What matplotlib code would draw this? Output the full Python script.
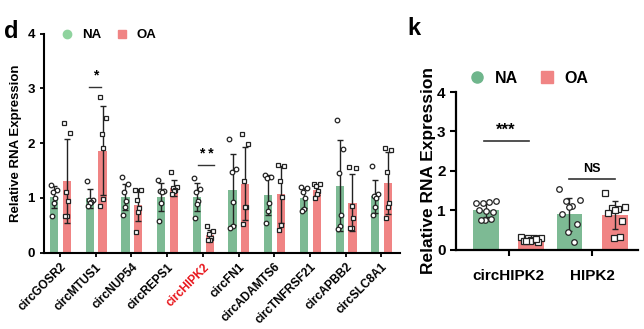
import numpy as np
import matplotlib
matplotlib.use("Agg")
import matplotlib.pyplot as plt
from matplotlib.lines import Line2D

plt.rcParams['font.family'] = ['Liberation Sans', 'DejaVu Sans']
plt.rcParams['font.weight'] = 'bold'
plt.rcParams['axes.labelweight'] = 'bold'

GREEN = '#7dba94'
RED = '#f08484'

# ---- panel d data ----
genes_d = ['circGOSR2', 'circMTUS1', 'circNUP54', 'circREPS1', 'circHIPK2',
           'circFN1', 'circADAMTS6', 'circTNFRSF21', 'circAPBB2', 'circSLC8A1']
na_mean_d = [1.01, 0.99, 1.02, 1.02, 1.02, 1.15, 1.05, 1.00, 1.22, 1.03]
oa_mean_d = [1.31, 1.86, 0.87, 1.18, 0.32, 1.26, 1.07, 1.15, 0.91, 1.27]
na_sd_d = [0.20, 0.17, 0.24, 0.25, 0.25, 0.65, 0.37, 0.18, 0.83, 0.30]
oa_sd_d = [0.76, 0.81, 0.29, 0.15, 0.09, 0.67, 0.52, 0.09, 0.52, 0.57]
na_pts_d = [
    [1.24, 1.14, 1.10, 1.00, 0.90, 0.67],
    [1.31, 0.97, 0.96, 0.93, 0.90, 0.85],
    [1.38, 1.25, 1.11, 0.95, 0.84, 0.68],
    [1.32, 1.13, 1.12, 1.10, 0.90, 0.57],
    [1.37, 1.17, 1.10, 0.95, 0.88, 0.64],
    [2.08, 1.53, 1.47, 0.93, 0.48, 0.45],
    [1.42, 1.39, 1.36, 0.91, 0.77, 0.55],
    [1.20, 1.18, 1.10, 1.00, 0.80, 0.77],
    [2.42, 1.89, 1.45, 0.68, 0.49, 0.43],
    [1.58, 1.08, 1.04, 1.00, 0.84, 0.69],
]
oa_pts_d = [
    [2.36, 2.18, 1.10, 0.95, 0.67, 0.67],
    [2.85, 2.46, 2.16, 1.92, 0.98, 0.85],
    [1.14, 1.14, 0.97, 0.81, 0.75, 0.37],
    [1.48, 1.20, 1.18, 1.15, 1.12, 1.08],
    [0.49, 0.40, 0.35, 0.27, 0.24, 0.24],
    [2.17, 1.98, 1.31, 0.84, 0.84, 0.52],
    [1.60, 1.58, 1.30, 1.02, 0.50, 0.41],
    [1.26, 1.25, 1.22, 1.13, 1.08, 1.00],
    [1.57, 1.55, 0.85, 0.63, 0.45, 0.45],
    [1.92, 1.88, 1.48, 0.91, 0.84, 0.63],
]

# ---- panel k data ----
genes_k = ['circHIPK2', 'HIPK2']
na_mean_k = [1.00, 0.90]
oa_mean_k = [0.25, 0.87]
na_sd_k = [0.18, 0.42]
oa_sd_k = [0.05, 0.35]
na_pts_k = [
    [1.19, 1.22, 1.17, 1.21, 0.98, 1.00, 0.96, 0.75, 0.77, 0.74],
    [1.53, 1.25, 1.22, 1.10, 1.08, 0.90, 0.66, 0.44, 0.20],
]
oa_pts_k = [
    [0.32, 0.30, 0.28, 0.30, 0.25, 0.22, 0.20, 0.22, 0.26, 0.21],
    [1.44, 1.08, 1.06, 1.02, 1.00, 0.92, 0.72, 0.30, 0.33],
]


def spread(n, width):
    # simple symmetric horizontal offsets for the dots
    pattern = np.array([-0.5, 0.5, -0.15, 0.15, 0.0, -0.35, 0.35, -0.05, 0.25, -0.25])
    return pattern[:n] * width


def draw_group(ax, xc, mean, sd, pts, color, marker, bw, ms, jw):
    ax.bar(xc, mean, width=bw, color=color, zorder=1)
    ax.errorbar(xc, mean, yerr=sd, fmt='none', ecolor='#222222',
                elinewidth=1.0, capsize=2.2, capthick=1.0, zorder=2)
    ax.plot(xc + spread(len(pts), jw), pts, linestyle='none', marker=marker,
            ms=ms, mfc='white', mec='#222222', mew=0.9, zorder=3, clip_on=False)


fig = plt.figure(figsize=(6.44, 3.29), dpi=100)

# ------------- panel d -------------
ax = fig.add_axes([0.0683, 0.2319, 0.5528, 0.666])
x = np.arange(len(genes_d))
for i in range(len(genes_d)):
    draw_group(ax, x[i] - 0.17, na_mean_d[i], na_sd_d[i], na_pts_d[i], GREEN, 'o', 0.23, 3.3, 0.17)
    draw_group(ax, x[i] + 0.19, oa_mean_d[i], oa_sd_d[i], oa_pts_d[i], RED, 's', 0.23, 3.3, 0.17)

ax.set_xlim(-0.45, 9.52)
ax.set_ylim(0, 4)
ax.set_yticks([0, 1, 2, 3, 4])
ax.set_xticks(x)
ax.set_xticklabels(genes_d, rotation=45, ha='right', rotation_mode='anchor', fontsize=8.5)
ax.get_xticklabels()[4].set_color('#e8141a')
ax.tick_params(axis='both', width=1.3, length=3, labelsize=9.5)
ax.tick_params(axis='x', labelsize=8.5, pad=3)
for s in ['top', 'right']:
    ax.spines[s].set_visible(False)
for s in ['left', 'bottom']:
    ax.spines[s].set_linewidth(1.5)
ax.set_ylabel('Relative RNA Expression', fontsize=9.5, labelpad=4)

# significance
ax.plot([0.82, 1.15], [3.02, 3.02], color='#333333', lw=1)
ax.text(1.0, 3.1, '*', ha='center', va='bottom', fontsize=10)
ax.plot([3.86, 4.32], [1.61, 1.61], color='#333333', lw=1)
ax.text(4.09, 1.67, '* *', ha='center', va='bottom', fontsize=10)

# legend d
ax.legend(handles=[Line2D([], [], marker='o', ls='none', color='#8fd39e', ms=6),
                   Line2D([], [], marker='s', ls='none', color=RED, ms=6)],
          labels=['NA', 'OA'], ncol=2, frameon=False, fontsize=9.5,
          loc='upper left', bbox_to_anchor=(-0.005, 1.075), handletextpad=0.1,
          columnspacing=0.6)

fig.text(0.006, 0.886, 'd', fontsize=17, fontweight='bold')

# ------------- panel k -------------
ak = fig.add_axes([0.708, 0.2416, 0.2826, 0.4787])
xk = np.arange(len(genes_k))
for i in range(len(genes_k)):
    draw_group(ak, xk[i] - 0.27, na_mean_k[i], na_sd_k[i], na_pts_k[i], GREEN, 'o', 0.31, 4.0, 0.24)
    draw_group(ak, xk[i] + 0.27, oa_mean_k[i], oa_sd_k[i], oa_pts_k[i], RED, 's', 0.31, 4.0, 0.24)

ak.set_xlim(-0.63, 1.55)
ak.set_ylim(0, 4)
ak.set_yticks([0, 1, 2, 3, 4])
ak.set_xticks(xk)
ak.set_xticklabels(genes_k, fontsize=11)
ak.tick_params(axis='both', width=1.5, length=4, labelsize=11)
ak.tick_params(axis='x', pad=10)
for s in ['top', 'right']:
    ak.spines[s].set_visible(False)
for s in ['left', 'bottom']:
    ak.spines[s].set_linewidth(1.6)
ak.set_ylabel('Relative RNA Expression', fontsize=12.5, labelpad=1)

ak.plot([-0.29, 0.24], [2.76, 2.76], color='#333333', lw=1.2)
ak.text(-0.03, 2.85, '***', ha='center', va='bottom', fontsize=12)
ak.plot([0.73, 1.27], [1.8, 1.8], color='#333333', lw=1.2)
ak.text(1.0, 1.88, 'NS', ha='center', va='bottom', fontsize=9)

ak.legend(handles=[Line2D([], [], marker='o', ls='none', color='#6fb68c', ms=8),
                   Line2D([], [], marker='s', ls='none', color=RED, ms=8)],
          labels=['NA', 'OA'], ncol=2, frameon=False, fontsize=11.5,
          loc='lower left', bbox_to_anchor=(-0.05, 0.95), handletextpad=0.1,
          columnspacing=0.8)

fig.text(0.632, 0.893, 'k', fontsize=17, fontweight='bold')

fig.savefig('out.png', dpi=100)
